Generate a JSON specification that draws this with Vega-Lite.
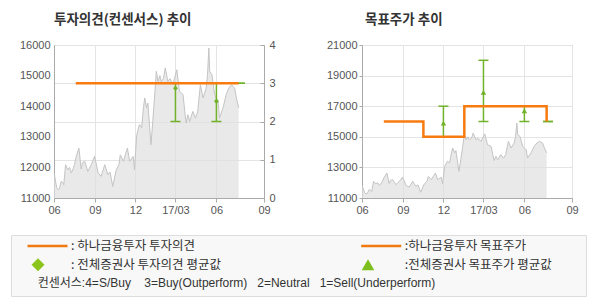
{
  "$schema": "https://vega.github.io/schema/vega-lite/v6.json",
  "padding": {"left": 8, "top": 12, "right": 0, "bottom": 0},
  "background": "white",
  "spacing": 18,
  "config": {
    "font": "Liberation Sans",
    "view": {"stroke": "#aaaaaa"},
    "axis": {"labelFont": "Liberation Sans", "labelFontSize": 11, "labelColor": "#555555", "domainColor": "#aaaaaa", "tickColor": "#aaaaaa", "gridColor": "#e4e4e4", "zindex": 1}
  },
  "datasets": {
    "price": [
      {"date": "2016/06/01", "price": 11800}, {"date": "2016/06/02", "price": 11760}, {"date": "2016/06/07", "price": 11340},
      {"date": "2016/06/10", "price": 11270}, {"date": "2016/06/13", "price": 11300}, {"date": "2016/06/17", "price": 11540},
      {"date": "2016/06/21", "price": 11500}, {"date": "2016/06/23", "price": 11430}, {"date": "2016/06/27", "price": 12090},
      {"date": "2016/07/02", "price": 11920}, {"date": "2016/07/06", "price": 12000}, {"date": "2016/07/10", "price": 11820},
      {"date": "2016/07/14", "price": 11950}, {"date": "2016/07/17", "price": 12090}, {"date": "2016/07/21", "price": 12360},
      {"date": "2016/07/27", "price": 12630}, {"date": "2016/08/01", "price": 11950}, {"date": "2016/08/04", "price": 12150},
      {"date": "2016/08/09", "price": 12200}, {"date": "2016/08/16", "price": 11870}, {"date": "2016/08/24", "price": 12090},
      {"date": "2016/08/31", "price": 12360}, {"date": "2016/09/05", "price": 12050}, {"date": "2016/09/08", "price": 11820},
      {"date": "2016/09/15", "price": 11710}, {"date": "2016/09/23", "price": 12090}, {"date": "2016/09/30", "price": 11760},
      {"date": "2016/10/05", "price": 11850}, {"date": "2016/10/11", "price": 11380}, {"date": "2016/10/19", "price": 11920},
      {"date": "2016/10/25", "price": 12090}, {"date": "2016/10/28", "price": 12410}, {"date": "2016/11/04", "price": 12200},
      {"date": "2016/11/09", "price": 12450}, {"date": "2016/11/13", "price": 12630}, {"date": "2016/11/18", "price": 12200},
      {"date": "2016/11/26", "price": 12360}, {"date": "2016/11/29", "price": 11930}, {"date": "2016/12/04", "price": 13070},
      {"date": "2016/12/10", "price": 13400}, {"date": "2016/12/15", "price": 13300}, {"date": "2016/12/19", "price": 13950},
      {"date": "2016/12/22", "price": 14270}, {"date": "2016/12/26", "price": 13950}, {"date": "2016/12/29", "price": 14100},
      {"date": "2017/01/02", "price": 13300}, {"date": "2017/01/05", "price": 12740}, {"date": "2017/01/09", "price": 13500},
      {"date": "2017/01/13", "price": 14300}, {"date": "2017/01/17", "price": 15140}, {"date": "2017/01/21", "price": 14810},
      {"date": "2017/01/25", "price": 15000}, {"date": "2017/01/28", "price": 14810}, {"date": "2017/02/02", "price": 14900},
      {"date": "2017/02/06", "price": 15250}, {"date": "2017/02/12", "price": 14810}, {"date": "2017/02/17", "price": 14900},
      {"date": "2017/02/23", "price": 14700}, {"date": "2017/03/04", "price": 15190}, {"date": "2017/03/10", "price": 14480},
      {"date": "2017/03/18", "price": 14380}, {"date": "2017/03/22", "price": 13830}, {"date": "2017/03/25", "price": 13450},
      {"date": "2017/03/29", "price": 13720}, {"date": "2017/04/02", "price": 13500}, {"date": "2017/04/09", "price": 13830},
      {"date": "2017/04/15", "price": 13610}, {"date": "2017/04/20", "price": 13830}, {"date": "2017/04/26", "price": 14700},
      {"date": "2017/05/02", "price": 14270}, {"date": "2017/05/09", "price": 14590}, {"date": "2017/05/12", "price": 15000},
      {"date": "2017/05/15", "price": 15900}, {"date": "2017/05/17", "price": 15140}, {"date": "2017/05/22", "price": 15030},
      {"date": "2017/05/28", "price": 14380}, {"date": "2017/06/05", "price": 14160}, {"date": "2017/06/08", "price": 13610},
      {"date": "2017/06/16", "price": 13950}, {"date": "2017/06/23", "price": 14380}, {"date": "2017/06/29", "price": 14590},
      {"date": "2017/07/05", "price": 14700}, {"date": "2017/07/12", "price": 14590}, {"date": "2017/07/16", "price": 14270},
      {"date": "2017/07/21", "price": 13950}
    ],
    "op": [{"date": "2016/07/20", "v": 3}, {"date": "2017/07/21", "v": 3}],
    "cons1": [
      {"date": "2017/03/01", "lo": 2, "hi": 3, "avg": 2.87},
      {"date": "2017/06/01", "lo": 2, "hi": 3, "avg": 2.53},
      {"date": "2017/07/24", "lo": 3, "hi": 3, "avg": null}
    ],
    "tp": [{"date": "2016/07/20", "v": 16000}, {"date": "2016/10/17", "v": 15000}, {"date": "2017/01/17", "v": 17000}, {"date": "2017/07/21", "v": 16000}],
    "cons2": [
      {"date": "2016/12/01", "lo": 15000, "hi": 17000, "avg": 15900},
      {"date": "2017/03/01", "lo": 16000, "hi": 20000, "avg": 17900},
      {"date": "2017/06/01", "lo": 16000, "hi": 17000, "avg": 16700},
      {"date": "2017/07/24", "lo": 16000, "hi": 16000, "avg": null}
    ],
    "legend": [
      {"col": "L", "row": "1", "kind": "line", "label": ": 하나금융투자 투자의견"},
      {"col": "R", "row": "1", "kind": "line", "label": ":하나금융투자 목표주가"},
      {"col": "L", "row": "2", "kind": "diamond", "label": ": 전체증권사 투자의견 평균값"},
      {"col": "R", "row": "2", "kind": "triangle", "label": ":전체증권사 목표주가 평균값"},
      {"col": "L", "row": "3", "kind": "note", "label": "컨센서스:4=S/Buy\u00a0\u00a0\u00a0\u00a03=Buy(Outperform)\u00a0\u00a0\u00a02=Neutral\u00a0\u00a0\u00a01=Sell(Underperform)"}
    ]
  },
  "vconcat": [
    {
      "spacing": 0,
      "hconcat": [
        {
          "width": 1,
          "height": 153,
          "view": {"stroke": null},
          "data": {"values": [{"a": 0}]},
          "mark": {"type": "point", "opacity": 0},
          "encoding": {}
        },
        {
          "spacing": 49,
          "hconcat": [
            {
              "width": 210,
              "height": 153,
              "title": {"text": "투자의견(컨센서스) 추이", "anchor": "start", "frame": "group", "font": "Noto Sans CJK KR", "fontSize": 13.5, "fontWeight": "bold", "color": "#333333", "offset": 13},
              "encoding": {
                "x": {"field": "date", "type": "temporal", "title": null,
                  "scale": {"domain": [{"year": 2016, "month": 6, "date": 1}, {"year": 2017, "month": 9, "date": 16}]},
                  "axis": {"values": [{"year": 2016, "month": 6, "date": 1}, {"year": 2016, "month": 9, "date": 1}, {"year": 2016, "month": 12, "date": 1}, {"year": 2017, "month": 3, "date": 1}, {"year": 2017, "month": 6, "date": 1}, {"year": 2017, "month": 9, "date": 16}],
                    "labelExpr": "month(datum.value)==2 ? timeFormat(datum.value,'%y/%m') : (date(datum.value)==16 ? '09' : timeFormat(datum.value,'%m'))",
                    "grid": true, "tickSize": 4, "labelPadding": 2, "labelFlush": false, "labelOverlap": false}}
              },
              "layer": [
                {
                  "data": {"name": "price"},
                  "mark": {"type": "area", "color": "#e0e0e0", "clip": true, "line": {"color": "#c4c4c4", "strokeWidth": 1}},
                  "encoding": {
                    "y": {"field": "price", "type": "quantitative", "title": null, "scale": {"domain": [11000, 16000], "zero": false, "nice": false},
                      "axis": {"values": [11000, 12000, 13000, 14000, 15000, 16000], "format": "d", "grid": false, "ticks": false, "labelPadding": 4, "minExtent": 38}}
                  }
                },
                {
                  "layer": [
                    {
                      "data": {"name": "cons1"},
                      "mark": {"type": "rule", "color": "#72b22a", "strokeWidth": 1.5},
                      "encoding": {
                        "y": {"field": "lo", "type": "quantitative", "title": null, "scale": {"domain": [0, 4], "nice": false}, "axis": {"orient": "right", "values": [0, 1, 2, 3, 4], "grid": true, "tickSize": -4, "labelPadding": 9}},
                        "y2": {"field": "hi"}
                      }
                    },
                    {
                      "data": {"name": "cons1"},
                      "mark": {"type": "tick", "orient": "horizontal", "size": 10, "thickness": 1.5, "color": "#72b22a", "opacity": 1},
                      "encoding": {
                        "y": {"field": "lo", "type": "quantitative", "title": null, "scale": {"domain": [0, 4], "nice": false}, "axis": {"orient": "right", "values": [0, 1, 2, 3, 4], "grid": true, "tickSize": -4, "labelPadding": 9}}
                      }
                    },
                    {
                      "data": {"name": "cons1"},
                      "mark": {"type": "tick", "orient": "horizontal", "size": 10, "thickness": 1.5, "color": "#72b22a", "opacity": 1},
                      "encoding": {
                        "y": {"field": "hi", "type": "quantitative", "title": null, "scale": {"domain": [0, 4], "nice": false}, "axis": {"orient": "right", "values": [0, 1, 2, 3, 4], "grid": true, "tickSize": -4, "labelPadding": 9}}
                      }
                    },
                    {
                      "data": {"name": "op"},
                      "mark": {"type": "line", "color": "#f77b0f", "strokeWidth": 2.5},
                      "encoding": {
                        "y": {"field": "v", "type": "quantitative", "title": null, "scale": {"domain": [0, 4], "nice": false}, "axis": {"orient": "right", "values": [0, 1, 2, 3, 4], "grid": true, "tickSize": -4, "labelPadding": 9}}
                      }
                    },
                    {
                      "data": {"name": "cons1"},
                      "mark": {"type": "point", "shape": "diamond", "filled": true, "size": 24, "color": "#72b22a", "opacity": 1},
                      "encoding": {
                        "y": {"field": "avg", "type": "quantitative", "title": null, "scale": {"domain": [0, 4], "nice": false}, "axis": {"orient": "right", "values": [0, 1, 2, 3, 4], "grid": true, "tickSize": -4, "labelPadding": 9}}
                      }
                    }
                  ]
                }
              ],
              "resolve": {"scale": {"y": "independent"}}
            },
            {
              "width": 210,
              "height": 153,
              "title": {"text": "목표주가 추이", "anchor": "start", "frame": "group", "font": "Noto Sans CJK KR", "fontSize": 13.5, "fontWeight": "bold", "color": "#333333", "offset": 13, "dx": 3},
              "encoding": {
                "x": {"field": "date", "type": "temporal", "title": null,
                  "scale": {"domain": [{"year": 2016, "month": 6, "date": 1}, {"year": 2017, "month": 9, "date": 16}]},
                  "axis": {"values": [{"year": 2016, "month": 6, "date": 1}, {"year": 2016, "month": 9, "date": 1}, {"year": 2016, "month": 12, "date": 1}, {"year": 2017, "month": 3, "date": 1}, {"year": 2017, "month": 6, "date": 1}, {"year": 2017, "month": 9, "date": 16}],
                    "labelExpr": "month(datum.value)==2 ? timeFormat(datum.value,'%y/%m') : (date(datum.value)==16 ? '09' : timeFormat(datum.value,'%m'))",
                    "grid": true, "tickSize": 4, "labelPadding": 2, "labelFlush": false, "labelOverlap": false}}
              },
              "layer": [
                {
                  "data": {"name": "price"},
                  "mark": {"type": "area", "color": "#e0e0e0", "clip": true, "line": {"color": "#c4c4c4", "strokeWidth": 1}},
                  "encoding": {
                    "y": {"field": "price", "type": "quantitative", "title": null, "scale": {"domain": [11000, 21000], "zero": false, "nice": false},
                      "axis": {"values": [11000, 13000, 15000, 17000, 19000, 21000], "format": "d", "grid": true, "tickSize": 3, "labelPadding": 2}}
                  }
                },
                {
                  "data": {"name": "cons2"},
                  "mark": {"type": "rule", "color": "#72b22a", "strokeWidth": 1.5},
                  "encoding": {
                    "y": {"field": "lo", "type": "quantitative", "title": null, "scale": {"domain": [11000, 21000], "zero": false, "nice": false},
                      "axis": {"values": [11000, 13000, 15000, 17000, 19000, 21000], "format": "d", "grid": true, "tickSize": 3, "labelPadding": 2}},
                    "y2": {"field": "hi"}
                  }
                },
                {
                  "data": {"name": "cons2"},
                  "mark": {"type": "tick", "orient": "horizontal", "size": 10, "thickness": 1.5, "color": "#72b22a", "opacity": 1},
                  "encoding": {
                    "y": {"field": "lo", "type": "quantitative", "title": null, "scale": {"domain": [11000, 21000], "zero": false, "nice": false},
                      "axis": {"values": [11000, 13000, 15000, 17000, 19000, 21000], "format": "d", "grid": true, "tickSize": 3, "labelPadding": 2}}
                  }
                },
                {
                  "data": {"name": "cons2"},
                  "mark": {"type": "tick", "orient": "horizontal", "size": 10, "thickness": 1.5, "color": "#72b22a", "opacity": 1},
                  "encoding": {
                    "y": {"field": "hi", "type": "quantitative", "title": null, "scale": {"domain": [11000, 21000], "zero": false, "nice": false},
                      "axis": {"values": [11000, 13000, 15000, 17000, 19000, 21000], "format": "d", "grid": true, "tickSize": 3, "labelPadding": 2}}
                  }
                },
                {
                  "data": {"name": "tp"},
                  "mark": {"type": "line", "color": "#f77b0f", "strokeWidth": 2.5, "interpolate": "step-after"},
                  "encoding": {
                    "y": {"field": "v", "type": "quantitative", "title": null, "scale": {"domain": [11000, 21000], "zero": false, "nice": false},
                      "axis": {"values": [11000, 13000, 15000, 17000, 19000, 21000], "format": "d", "grid": true, "tickSize": 3, "labelPadding": 2}}
                  }
                },
                {
                  "data": {"name": "cons2"},
                  "mark": {"type": "point", "shape": "triangle-up", "filled": true, "size": 30, "color": "#72b22a", "opacity": 1},
                  "encoding": {
                    "y": {"field": "avg", "type": "quantitative", "title": null, "scale": {"domain": [11000, 21000], "zero": false, "nice": false},
                      "axis": {"values": [11000, 13000, 15000, 17000, 19000, 21000], "format": "d", "grid": true, "tickSize": 3, "labelPadding": 2}}
                  }
                }
              ]
            }
          ]
        }
      ]
    },
    {
      "width": 575,
      "height": 61,
      "view": {"stroke": "#dcdcdc", "fill": "#f8f8f8"},
      "data": {"name": "legend"},
      "encoding": {
        "x": {"field": "col", "type": "nominal", "scale": {"type": "point", "domain": ["L", "R"], "range": [60, 393.7], "padding": 0}, "axis": null},
        "y": {"field": "row", "type": "nominal", "scale": {"type": "point", "domain": ["1", "2", "3"], "range": [11, 48.4], "padding": 0}, "axis": null}
      },
      "layer": [
        {
          "transform": [{"filter": "datum.kind == 'line'"}],
          "mark": {"type": "point", "shape": "stroke", "size": 1600, "strokeWidth": 2.5, "color": "#f07a10", "opacity": 1, "xOffset": -23.5}
        },
        {
          "transform": [{"filter": "datum.kind == 'diamond'"}],
          "mark": {"type": "point", "shape": "diamond", "filled": true, "size": 170, "color": "#8cc41e", "opacity": 1, "xOffset": -33}
        },
        {
          "transform": [{"filter": "datum.kind == 'triangle'"}],
          "mark": {"type": "point", "shape": "triangle-up", "filled": true, "size": 160, "color": "#7cbf1c", "opacity": 1, "xOffset": -36.7}
        },
        {
          "transform": [{"filter": "datum.kind != 'note'"}],
          "mark": {"type": "text", "align": "left", "baseline": "middle", "font": "Noto Sans CJK KR", "fontSize": 12.5, "color": "#333333"},
          "encoding": {"text": {"field": "label"}}
        },
        {
          "transform": [{"filter": "datum.kind == 'note'"}],
          "mark": {"type": "text", "align": "left", "baseline": "middle", "font": "Liberation Sans, Noto Sans CJK KR", "fontSize": 12, "color": "#333333", "dx": -33.3},
          "encoding": {"text": {"field": "label"}}
        }
      ]
    }
  ]
}
